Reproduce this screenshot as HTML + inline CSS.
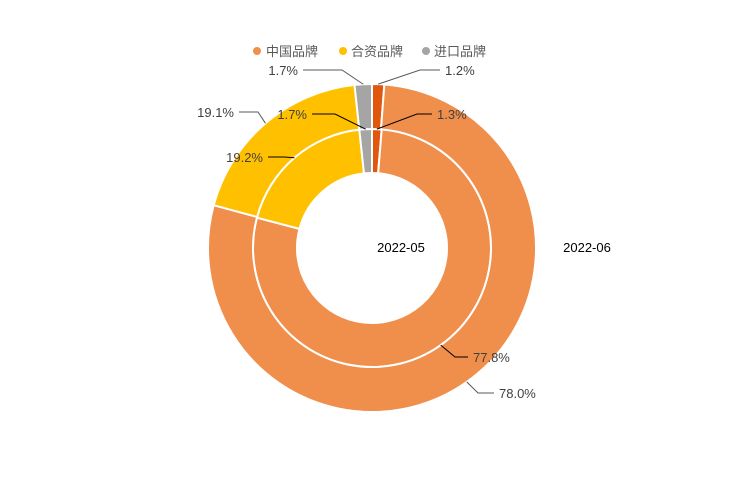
<!DOCTYPE html>
<html><head><meta charset="utf-8"><style>
body{margin:0;background:#fff;}
svg{font-family:"Liberation Sans","Noto Sans CJK SC",sans-serif;}
</style></head><body>
<svg id="c" width="744" height="496" viewBox="0 0 744 496">
  <g font-size="13" fill="#595959">
    <g><circle cx="257" cy="51" r="4" fill="#f08f4c"/><text x="266" y="56">中国品牌</text></g>
    <g><circle cx="343" cy="51" r="4" fill="#ffc000"/><text x="351" y="56">合资品牌</text></g>
    <g><circle cx="426" cy="51" r="4" fill="#a5a5a5"/><text x="434" y="56">进口品牌</text></g>
  </g>
  <text x="401" y="252" text-anchor="middle" font-size="13" fill="#000">2022-05</text>
  <text x="587" y="252" text-anchor="middle" font-size="13" fill="#000">2022-06</text>
  <g id="rings"></g>
  <g id="labels" font-size="13" fill="#404040"></g>
</svg>
<script>
const sliceNames = ['other','china','jv','import'];
const colors = ['#e2570e','#f08f4c','#ffc000','#a5a5a5'];
const innerValues = [1.3, 77.8, 19.2, 1.7];
const outerValues = [1.2, 78.0, 19.1, 1.7];
const cx = 372, cy = 248;
const rings = [
  {vals: innerValues, r0: 75, r1: 119, name: 'inner', lab: [[417,114,437,'start'],[455,357,473,'start'],[284,157,263,'end'],[335,114,307,'end']]},
  {vals: outerValues, r0: 119, r1: 164, name: 'outer', lab: [[420,70,445,'start'],[478,393,499,'start'],[258,112,234,'end'],[342,70,298,'end']]}
];
const ns = 'http://www.w3.org/2000/svg';
const gR = document.getElementById('rings'), gL = document.getElementById('labels');
function pt(r, a){ return [cx + r*Math.sin(a), cy - r*Math.cos(a)]; }
rings.forEach(ring => {
  const tot = ring.vals.reduce((a,b)=>a+b,0);
  let a0 = 0;
  ring.vals.forEach((v,i) => {
    const a1 = a0 + v/tot*2*Math.PI;
    const large = (a1-a0) > Math.PI ? 1 : 0;
    const p1 = pt(ring.r1,a0), p2 = pt(ring.r1,a1), p3 = pt(ring.r0,a1), p4 = pt(ring.r0,a0);
    const path = document.createElementNS(ns,'path');
    path.setAttribute('d',`M${p1} A${ring.r1},${ring.r1} 0 ${large} 1 ${p2} L${p3} A${ring.r0},${ring.r0} 0 ${large} 0 ${p4}Z`);
    path.setAttribute('fill',colors[i]);
    path.setAttribute('stroke','#fff');
    path.setAttribute('stroke-width','2');
    
    
    gR.appendChild(path);
    const mid = (a0+a1)/2;
    const s = pt(ring.r1, mid);
    const L = ring.lab[i];
    const ex = L[3]==='start' ? L[2]-5 : L[2]+5;
    const line = document.createElementNS(ns,'polyline');
    line.setAttribute('points',`${s} ${L[0]},${L[1]} ${ex},${L[1]}`);
    line.setAttribute('fill','none');
    line.setAttribute('stroke', ring.name==='outer' ? '#595959' : '#000');
    line.setAttribute('stroke-width','1');
    
    
    gL.appendChild(line);
    const t = document.createElementNS(ns,'text');
    t.setAttribute('x',L[2]); t.setAttribute('y',L[1]+5);
    t.setAttribute('text-anchor',L[3]);
    t.textContent = v.toFixed(1) + '%';
    
    
    gL.appendChild(t);
    a0 = a1;
  });
});
</script>
</body></html>
